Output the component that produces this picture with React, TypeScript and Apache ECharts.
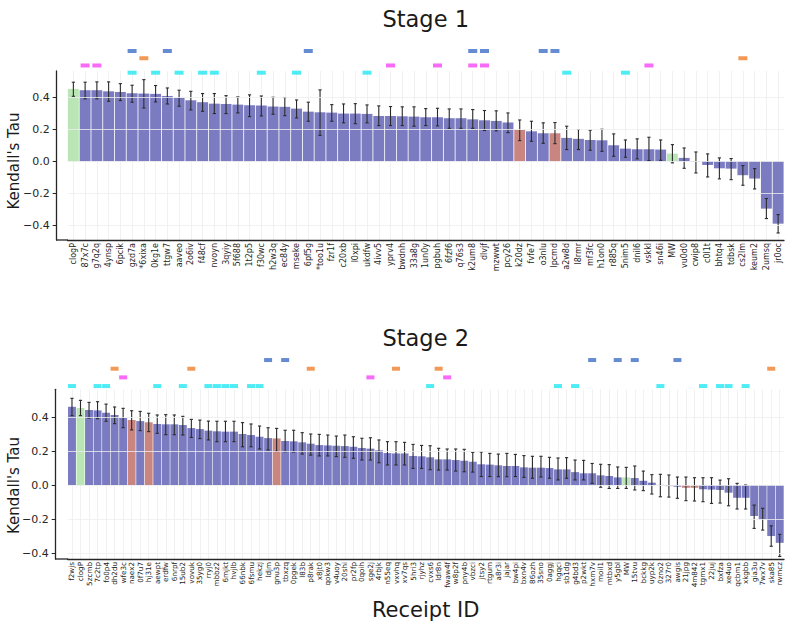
import React, { useEffect, useRef } from 'react';
import * as echarts from 'echarts';

// ---------------- Stage 1 data ----------------
const stage1Ids = ['clogP','87x7c','g7q2q','4ynsp','6pcik','gzd7a','*6xixa','0kg1e','ttgw7','aaveo','2o6iv','f48cf','nvoyn','3qyiy','5f688','1t2p5','f30wc','h2w3q','ec84y','mseke','6pf5g','*too1u','fzr1f','c20xb','l0xpi','ukdfw','4ivv5','yprv4','bwdnh','33a8g','1un0y','pgbuh','6fzf6','q76s3','k2um8','dlvjf','mzwwt','pcy26','k20dz','fvfe7','o3nlu','lpcmd','a2w8d','l8rmr','mf3fc','h1on0','r885q','5nim5','dnil6','vskkl','sn46i','MW','vu0d0','cwip8','c0l1t','bhtq4','tdbsk','cs2lm','keum2','2umsq','jr0oc'];
const stage1Tau = [0.452,0.444,0.444,0.437,0.433,0.425,0.423,0.421,0.408,0.396,0.381,0.369,0.360,0.358,0.354,0.350,0.348,0.342,0.340,0.329,0.310,0.306,0.304,0.298,0.298,0.296,0.283,0.283,0.281,0.279,0.275,0.275,0.269,0.269,0.262,0.256,0.252,0.242,0.196,0.187,0.175,0.175,0.146,0.140,0.133,0.131,0.100,0.079,0.075,0.075,0.073,0.048,0.021,-0.002,-0.023,-0.044,-0.046,-0.087,-0.108,-0.296,-0.390];
const stage1High = [0.494,0.494,0.496,0.496,0.485,0.475,0.510,0.473,0.458,0.444,0.437,0.423,0.423,0.410,0.402,0.415,0.408,0.400,0.398,0.383,0.369,0.446,0.354,0.358,0.360,0.352,0.346,0.342,0.340,0.340,0.329,0.331,0.327,0.327,0.323,0.317,0.315,0.302,0.258,0.250,0.240,0.242,0.219,0.198,0.194,0.200,0.171,0.133,0.140,0.150,0.133,0.104,0.083,0.058,0.046,0.021,0.017,-0.027,-0.046,-0.233,-0.333];
const stage1Low = [0.406,0.390,0.390,0.375,0.379,0.369,0.333,0.371,0.358,0.344,0.321,0.312,0.298,0.298,0.302,0.279,0.283,0.294,0.285,0.271,0.250,0.162,0.250,0.240,0.235,0.240,0.223,0.223,0.223,0.219,0.223,0.221,0.206,0.206,0.206,0.192,0.190,0.179,0.129,0.125,0.112,0.110,0.073,0.073,0.069,0.062,0.031,0.025,0.015,0.004,0.006,-0.010,-0.044,-0.073,-0.098,-0.110,-0.115,-0.150,-0.173,-0.358,-0.448];
const stage1Green = ['clogP','MW'];
const stage1Red = ['k20dz','lpcmd'];
const stage1BlueMarks = ['gzd7a','ttgw7','6pf5g','k2um8','dlvjf','o3nlu','lpcmd'];
const stage1OrangeMarks = ['*6xixa','cs2lm'];
const stage1MagentaMarks = ['87x7c','g7q2q','yprv4','pgbuh','k2um8','dlvjf','vskkl'];
const stage1CyanMarks = ['gzd7a','0kg1e','aaveo','f48cf','nvoyn','f30wc','mseke','ukdfw','a2w8d','5nim5'];

// ---------------- Stage 2 data ----------------
const stage2Ids = ['f2wjs','clogP','5zcmb','7c2tp','fo0p4','dh2du','wfe3c','naex2','0f7u7','hj31e','aewpt','erdfw','6nrpf','15ub2','vovuk','35yg0','rryj0','mbbz2','6mjkt','hvjlb','66nbk','6fsmu','hekzj','ldjm','gnu3p','tbxzq','0pgek','l83b','p8rak','x8jt0','qokw3','v4uoy','20shi','pr2fp','0qoih','sge2j','4rbjk','n55eq','vxvhq','xv7qs','5hri3','rjyhz','cvxs6','ldr8n','fwaw4f','w8p2f','pny4b','vbzci','jtsy2','rtgum','a8r3i','jajar','bw4pi','bxn4v','86ozh','35sno','0aggj','hgqci','sb1dg','g4bd3','p2wkt','hxm7v','moil1','mtbxd','y5gbl','MW','15tvu','bckkg','uyp2k','0zno2','327r0','awgis','21jpg','4m842','tgmx1','22juj','bxfza','xe4uo','qcbm1','xkgbb','gia3u','7wx7v','ska85','rwmcz'];
const stage2Tau = [0.461,0.453,0.441,0.439,0.425,0.412,0.394,0.382,0.376,0.369,0.359,0.357,0.357,0.353,0.335,0.329,0.320,0.316,0.314,0.314,0.300,0.294,0.284,0.276,0.274,0.259,0.257,0.251,0.243,0.235,0.233,0.231,0.229,0.225,0.218,0.214,0.204,0.188,0.186,0.186,0.171,0.169,0.163,0.151,0.151,0.147,0.143,0.137,0.122,0.120,0.116,0.112,0.112,0.104,0.102,0.102,0.100,0.092,0.092,0.076,0.069,0.069,0.057,0.053,0.045,0.045,0.041,0.025,0.014,0.001,-0.006,-0.010,-0.016,-0.016,-0.025,-0.027,-0.029,-0.045,-0.075,-0.075,-0.182,-0.202,-0.300,-0.340];
const stage2High = [0.510,0.498,0.486,0.490,0.476,0.459,0.451,0.437,0.433,0.422,0.412,0.414,0.412,0.404,0.386,0.382,0.376,0.375,0.375,0.375,0.367,0.359,0.347,0.337,0.333,0.322,0.322,0.308,0.300,0.298,0.294,0.288,0.294,0.284,0.275,0.278,0.265,0.255,0.255,0.251,0.239,0.233,0.231,0.216,0.212,0.212,0.210,0.192,0.194,0.186,0.182,0.186,0.180,0.173,0.169,0.169,0.163,0.159,0.161,0.147,0.145,0.127,0.122,0.120,0.106,0.104,0.112,0.082,0.061,0.063,0.059,0.047,0.047,0.043,0.043,0.043,0.029,0.037,0.010,0.000,-0.118,-0.137,-0.240,-0.290];
const stage2Low = [0.408,0.408,0.394,0.390,0.375,0.361,0.337,0.324,0.320,0.314,0.304,0.296,0.296,0.294,0.280,0.273,0.265,0.255,0.255,0.255,0.225,0.225,0.212,0.206,0.198,0.196,0.194,0.182,0.176,0.171,0.171,0.167,0.163,0.157,0.147,0.147,0.131,0.118,0.118,0.118,0.098,0.098,0.090,0.088,0.088,0.082,0.078,0.076,0.050,0.050,0.049,0.049,0.050,0.045,0.040,0.047,0.040,0.030,0.040,0.030,0.030,0.010,-0.013,-0.020,-0.020,-0.020,-0.029,-0.033,-0.053,-0.069,-0.071,-0.078,-0.092,-0.094,-0.098,-0.108,-0.106,-0.122,-0.141,-0.141,-0.255,-0.265,-0.360,-0.420];
const stage2Green = ['clogP','MW'];
const stage2Red = ['naex2','hj31e','gnu3p','21jpg','4m842'];
const stage2BlueMarks = ['ldjm','tbxzq','hxm7v','y5gbl','15tvu','awgis'];
const stage2OrangeMarks = ['dh2du','vovuk','p8rak','vxvhq','ldr8n','ska85'];
const stage2MagentaMarks = ['wfe3c','sge2j','fwaw4f'];
const stage2CyanMarks = ['f2wjs','7c2tp','fo0p4','aewpt','15ub2','rryj0','mbbz2','6mjkt','hvjlb','6fsmu','hekzj','cvxs6','hgqci','g4bd3','0zno2','tgmx1','bxfza','xe4uo','xkgbb'];

const yTicks = [-0.4, -0.2, 0, 0.2, 0.4];
const markerRows = ['cyan', 'magenta', 'orange', 'blue'];

// ---------------- styling ----------------
const FONT = 'DejaVu Sans';
const INK = '#262626';
const BAR = '#7b7bc1';
const GREEN = '#b9e6b4';
const RED = '#c98680';
const MARK_COLORS: Record<string, string> = {
  blue: '#3f6fc8',
  orange: '#f07f2c',
  magenta: '#f646f6',
  cyan: '#22e8f2',
};
const GRID_LINE = '#ededed';

const fmtTick = (v: number) => (v < 0 ? '\u2212' : '') + Math.abs(v).toFixed(1);

interface StageCfg {
  ids: string[];
  tau: number[];
  low: number[];
  high: number[];
  green: string[];
  red: string[];
  marks: Record<string, string[]>;
  left: number;
  right: number;
  top: number;
  height: number;
  yMin: number;
  yMax: number;
  spineX: number;
  markTop: number;
  markHeight: number;
  labelSize: number;
  markSize: [number, number];
}

function buildStage(cfg: StageCfg, gi: number) {
  const barGrid = gi * 2;
  const markGrid = gi * 2 + 1;
  const grids = [
    { left: cfg.left, right: cfg.right, top: cfg.top, height: cfg.height },
    { left: cfg.left, right: cfg.right, top: cfg.markTop, height: cfg.markHeight },
  ];
  const xAxes: any[] = [
    {
      type: 'category',
      gridIndex: barGrid,
      data: cfg.ids,
      axisLine: { onZero: false, lineStyle: { color: INK, width: 1.3 } },
      axisTick: { alignWithLabel: true, length: 4, lineStyle: { color: INK, width: 1 } },
      axisLabel: { interval: 0, rotate: 90, fontSize: cfg.labelSize, fontFamily: FONT, color: INK, margin: 3 },
      splitLine: { show: true, alignWithLabel: true, lineStyle: { color: GRID_LINE, width: 0.8 } },
    },
    { type: 'category', gridIndex: markGrid, data: cfg.ids, show: false },
  ];
  const yAxes: any[] = [
    {
      type: 'value',
      gridIndex: barGrid,
      min: cfg.yMin,
      max: cfg.yMax,
      offset: cfg.left - cfg.spineX,
      axisLine: { show: true, lineStyle: { color: INK, width: 1.3 } },
      axisTick: { show: true, length: 4, customValues: yTicks, lineStyle: { color: INK, width: 1 } },
      axisLabel: { customValues: yTicks, formatter: fmtTick, fontSize: 11, fontFamily: FONT, color: INK, margin: 7 },
      splitLine: { show: false },
    },
    { type: 'category', gridIndex: markGrid, data: markerRows, show: false },
  ];
  const colorFor = (id: string) =>
    cfg.green.includes(id) ? GREEN : cfg.red.includes(id) ? RED : BAR;
  const series: any[] = [
    {
      type: 'line',
      xAxisIndex: barGrid,
      yAxisIndex: barGrid,
      data: [],
      silent: true,
      z: 0,
      markLine: {
        silent: true,
        symbol: ['none', 'none'],
        label: { show: false },
        lineStyle: { color: GRID_LINE, width: 0.8, type: 'solid' },
        data: yTicks.map((v) => ({ yAxis: v })),
      },
    },
    {
      type: 'bar',
      xAxisIndex: barGrid,
      yAxisIndex: barGrid,
      barCategoryGap: '7%',
      z: 2,
      data: cfg.tau.map((v, i) => ({ value: v, itemStyle: { color: colorFor(cfg.ids[i]) } })),
    },
    {
      type: 'custom',
      xAxisIndex: barGrid,
      yAxisIndex: barGrid,
      z: 3,
      encode: { x: 0, y: [1, 2] },
      data: cfg.ids.map((_, i) => [i, cfg.low[i], cfg.high[i]]),
      renderItem: (params: any, api: any) => {
        const x = api.value(0);
        const p1 = api.coord([x, api.value(1)]);
        const p2 = api.coord([x, api.value(2)]);
        const c = 1.6;
        const st = { stroke: '#2b2b2b', lineWidth: 1.1 };
        return {
          type: 'group',
          children: [
            { type: 'line', shape: { x1: p1[0], y1: p1[1], x2: p2[0], y2: p2[1] }, style: st },
            { type: 'line', shape: { x1: p1[0] - c, y1: p1[1], x2: p1[0] + c, y2: p1[1] }, style: st },
            { type: 'line', shape: { x1: p2[0] - c, y1: p2[1], x2: p2[0] + c, y2: p2[1] }, style: st },
          ],
        };
      },
    },
  ];
  for (const row of markerRows) {
    series.push({
      type: 'scatter',
      xAxisIndex: markGrid,
      yAxisIndex: markGrid,
      symbol: 'rect',
      symbolSize: cfg.markSize,
      itemStyle: { color: MARK_COLORS[row] },
      z: 4,
      data: cfg.marks[row].map((id) => [id, row]),
    });
  }
  return { grids, xAxes, yAxes, series };
}

export default function App() {
  const ref = useRef<HTMLDivElement>(null);
  useEffect(() => {
    if (!ref.current) return;
    const chart = echarts.init(ref.current, undefined, { renderer: 'svg' });
    const s1 = buildStage(
      {
        ids: stage1Ids, tau: stage1Tau, low: stage1Low, high: stage1High,
        green: stage1Green, red: stage1Red,
        marks: { blue: stage1BlueMarks, orange: stage1OrangeMarks, magenta: stage1MagentaMarks, cyan: stage1CyanMarks },
        left: 67.5, right: 16, top: 71, height: 169, yMin: -0.492, yMax: 0.564, spineX: 56.7,
        markTop: 47.4, markHeight: 28.9, labelSize: 8, markSize: [9, 4],
      },
      0,
    );
    const s2 = buildStage(
      {
        ids: stage2Ids, tau: stage2Tau, low: stage2Low, high: stage2High,
        green: stage2Green, red: stage2Red,
        marks: { blue: stage2BlueMarks, orange: stage2OrangeMarks, magenta: stage2MagentaMarks, cyan: stage2CyanMarks },
        left: 67.7, right: 16, top: 389.3, height: 169.7, yMin: -0.435, yMax: 0.563, spineX: 55.7,
        markTop: 355.7, markHeight: 34.7, labelSize: 7.2, markSize: [8, 4],
      },
      1,
    );
    const cornerLine = (x1: number, x2: number, y: number) => ({
      type: 'line',
      shape: { x1, y1: y, x2, y2: y },
      style: { stroke: INK, lineWidth: 1.3 },
    });
    const text = (t: string, x: number, y: number, size: number, rotation = 0) => ({
      type: 'text',
      x,
      y,
      rotation,
      style: { text: t, fontSize: size, fontFamily: FONT, fill: '#1a1a1a', align: 'center', verticalAlign: 'middle' },
    });
    chart.setOption({
      animation: false,
      backgroundColor: '#ffffff',
      grid: [...s1.grids, ...s2.grids],
      xAxis: [...s1.xAxes, ...s2.xAxes],
      yAxis: [...s1.yAxes, ...s2.yAxes],
      series: [...s1.series, ...s2.series],
      graphic: [
        cornerLine(56.1, 68, 240),
        cornerLine(55.1, 68.2, 559),
        text('Stage 1', 425.7, 19, 22.5),
        text('Stage 2', 425.7, 338, 22.5),
        text("Kendall's Tau", 14, 161, 15, Math.PI / 2),
        text("Kendall's Tau", 14, 485.5, 15, Math.PI / 2),
        text('Receipt ID', 425.7, 610, 21),
      ],
    });
    return () => chart.dispose();
  }, []);
  return <div ref={ref} style={{ width: 800, height: 632, position: 'absolute', left: 0, top: 0 }} />;
}
